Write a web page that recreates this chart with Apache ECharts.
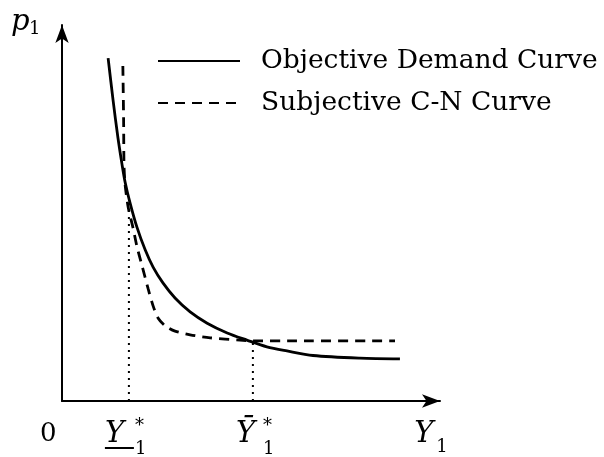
<!DOCTYPE html>
<html>
<head>
<meta charset="utf-8">
<script src="https://cdn.jsdelivr.net/npm/echarts@6/dist/echarts.min.js"></script>
<style>
  html, body { margin: 0; padding: 0; background: #fff; }
  #chart { width: 604px; height: 457px; }
</style>
</head>
<body>
<div id="chart"></div>
<script>
// objective demand curve (Y1, p1)
const demandX = [1.22, 1.35, 1.48, 1.59, 1.67, 1.80, 1.98, 2.20, 2.41, 2.67, 2.99, 3.39, 3.84, 4.37, 4.89, 5.42, 5.95, 6.64, 7.88, 8.94]
const demandY = [9.12, 8.01, 7.00, 6.28, 5.82, 5.27, 4.63, 4.02, 3.56, 3.14, 2.74, 2.37, 2.07, 1.81, 1.62, 1.44, 1.33, 1.21, 1.14, 1.12]
// subjective C-N curve
const cnX = [1.61, 1.63, 1.64, 1.67, 1.75, 1.88, 1.98, 2.12, 2.28, 2.41, 2.54, 2.73, 2.99, 3.39, 3.92, 4.71, 5.05, 6.11, 8.81]
const cnY = [8.91, 7.47, 6.28, 5.75, 5.16, 4.60, 4.12, 3.59, 2.98, 2.53, 2.21, 2.00, 1.86, 1.76, 1.68, 1.62, 1.60, 1.60, 1.60]
// the two equilibria marked on the Y1 axis
const lowStar = [1.77, 5.2]
const highStar = [5.05, 1.57]

const legendNames = ['Objective Demand Curve', 'Subjective C-N Curve']
const serif = 'DejaVu Serif'

const zip = (xs, ys) => xs.map((x, i) => [x, ys[i]])

const chart = echarts.init(document.getElementById('chart'))

const axisCommon = {
  type: 'value',
  min: 0,
  max: 10,
  axisLine: {
    show: true,
    symbol: ['none', 'arrow'],
    symbolSize: [10, 18],
    lineStyle: { color: '#000', width: 2 }
  },
  axisTick: { show: false },
  axisLabel: { show: false },
  splitLine: { show: false }
}

chart.setOption({
  animation: false,
  backgroundColor: '#fff',
  grid: { left: 62, top: 25, width: 378, height: 376 },
  legend: {
    data: legendNames,
    orient: 'vertical',
    left: 157,
    top: 47,
    padding: 0,
    itemWidth: 82,
    itemHeight: 14,
    itemGap: 14,
    itemStyle: { opacity: 0 },
    textStyle: { fontFamily: serif, fontSize: 26.5, lineHeight: 28, color: '#000', padding: [0, 0, 0, 16] }
  },
  xAxis: axisCommon,
  yAxis: axisCommon,
  series: [
    {
      name: legendNames[0],
      type: 'line',
      smooth: 0.3,
      symbol: 'none',
      lineStyle: { color: '#000', width: 2.8 },
      itemStyle: { color: '#000' },
      data: zip(demandX, demandY)
    },
    {
      name: legendNames[1],
      type: 'line',
      smooth: 0.25,
      symbol: 'none',
      lineStyle: { color: '#000', width: 2.8, type: [10, 7] },
      itemStyle: { color: '#000' },
      data: zip(cnX, cnY)
    },
    {
      type: 'line',
      symbol: 'none',
      lineStyle: { color: '#000', width: 2, type: [2, 5] },
      data: [[lowStar[0], 0], lowStar]
    },
    {
      type: 'line',
      symbol: 'none',
      lineStyle: { color: '#000', width: 2, type: [2, 5] },
      data: [[highStar[0], 0], highStar]
    }
  ]
})

// axis labels, placed from the axis scale
const px = v => chart.convertToPixel({ xAxisIndex: 0 }, v)
const labelY = 434
const italic = { font: 'italic 29px "DejaVu Serif"', fill: '#000', verticalAlign: 'middle' }
const upright = { font: '26px "DejaVu Serif"', fill: '#000', verticalAlign: 'middle' }
const small = { font: '18px "DejaVu Serif"', fill: '#000', verticalAlign: 'middle' }

function txt(x, y, text, style) {
  return { type: 'text', x: x, y: y, style: Object.assign({ text: text }, style) }
}

const lowX = px(lowStar[0])
const highX = px(highStar[0])
const endX = px(9.4)

chart.setOption({
  graphic: [
    txt(11, 22, 'p', italic),
    txt(29, 29, '1', small),
    txt(40, labelY, '0', upright),
    txt(lowX - 24, labelY, 'Y', italic),
    txt(lowX + 6, labelY + 15, '1', small),
    txt(lowX + 6, labelY - 8, '*', small),
    { type: 'line', shape: { x1: lowX - 24, y1: 448, x2: lowX + 5, y2: 448 }, style: { stroke: '#000', lineWidth: 2 } },
    txt(highX - 17, labelY, 'Ȳ', italic),
    txt(highX + 10, labelY + 15, '1', small),
    txt(highX + 10, labelY - 8, '*', small),
    txt(endX - 3, labelY, 'Y', italic),
    txt(endX + 19, labelY + 13, '1', small)
  ]
})
</script>
</body>
</html>
